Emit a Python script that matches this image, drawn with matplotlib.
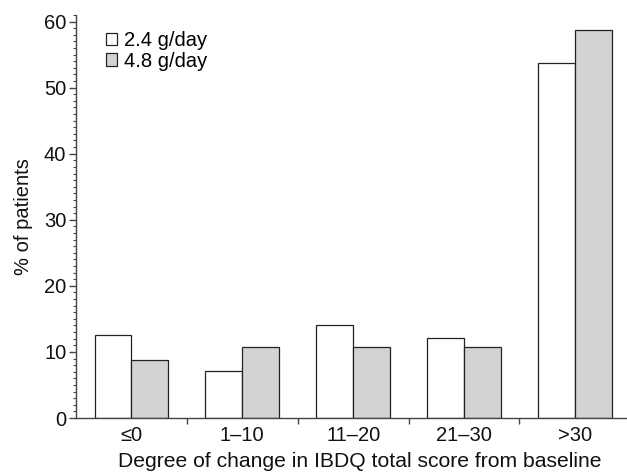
import matplotlib
matplotlib.use("Agg")
import matplotlib.pyplot as plt
import numpy as np
from matplotlib.ticker import MultipleLocator, FixedLocator

plt.rcParams["font.family"] = ["Liberation Sans", "DejaVu Sans"]

categories = ["\u22640", "1\u201310", "11\u201320", "21\u201330", ">30"]
low_dose = [12.6, 7.1, 14.1, 12.1, 53.7]
high_dose = [8.8, 10.8, 10.8, 10.8, 58.7]
series_labels = ["2.4 g/day", "4.8 g/day"]

BAR_W = 0.333
EDGE = "#222222"
AXIS_COLOR = "#444444"
FS = 14.5


def main() -> None:
    fig = plt.figure(figsize=(6.27, 4.72), dpi=100)
    ax = fig.add_axes([0.1212, 0.1144, 0.8788, 0.854])

    x = np.arange(len(categories))
    b1 = ax.bar(x - BAR_W / 2, low_dose, BAR_W, color="white", edgecolor=EDGE, linewidth=0.9, label=series_labels[0])
    b2 = ax.bar(x + BAR_W / 2, high_dose, BAR_W, color="#d3d3d5", edgecolor=EDGE, linewidth=0.9, label=series_labels[1])

    ax.set_xlim(-0.5, 4.47)
    ax.set_ylim(0, 61)

    ax.spines["top"].set_visible(False)
    ax.spines["right"].set_visible(False)
    for side in ("left", "bottom"):
        ax.spines[side].set_color(AXIS_COLOR)
        ax.spines[side].set_linewidth(1.0)

    ax.set_xticks(x)
    ax.set_xticklabels(categories)
    ax.xaxis.set_minor_locator(FixedLocator(x[:-1] + 0.5))
    ax.tick_params(axis="x", which="major", length=0, pad=6, labelsize=FS, colors="#111111")
    ax.tick_params(axis="x", which="minor", length=4, width=1.0, color=AXIS_COLOR)

    ax.yaxis.set_major_locator(MultipleLocator(10))
    ax.yaxis.set_minor_locator(MultipleLocator(1))
    ax.tick_params(axis="y", which="major", length=5, width=1.0, color=AXIS_COLOR, labelsize=FS, labelcolor="#111111", pad=2)
    ax.tick_params(axis="y", which="minor", length=2.5, width=0.8, color=AXIS_COLOR)

    ax.set_xlabel("Degree of change in IBDQ total score from baseline", fontsize=15.2, color="#111111", labelpad=5)
    ax.xaxis.label.set_x(0.515)
    ax.set_ylabel("% of patients", fontsize=FS, color="#111111", labelpad=8)

    ax.legend(
        handles=[b1, b2],
        loc="upper left",
        bbox_to_anchor=(0.025, 1.0),
        frameon=False,
        fontsize=FS,
        handlelength=0.55,
        handleheight=0.55,
        handletextpad=0.35,
        labelspacing=0.08,
        borderaxespad=0.4,
    )

    fig.savefig("out.png", dpi=100)
    plt.close(fig)


if __name__ == "__main__":
    main()
